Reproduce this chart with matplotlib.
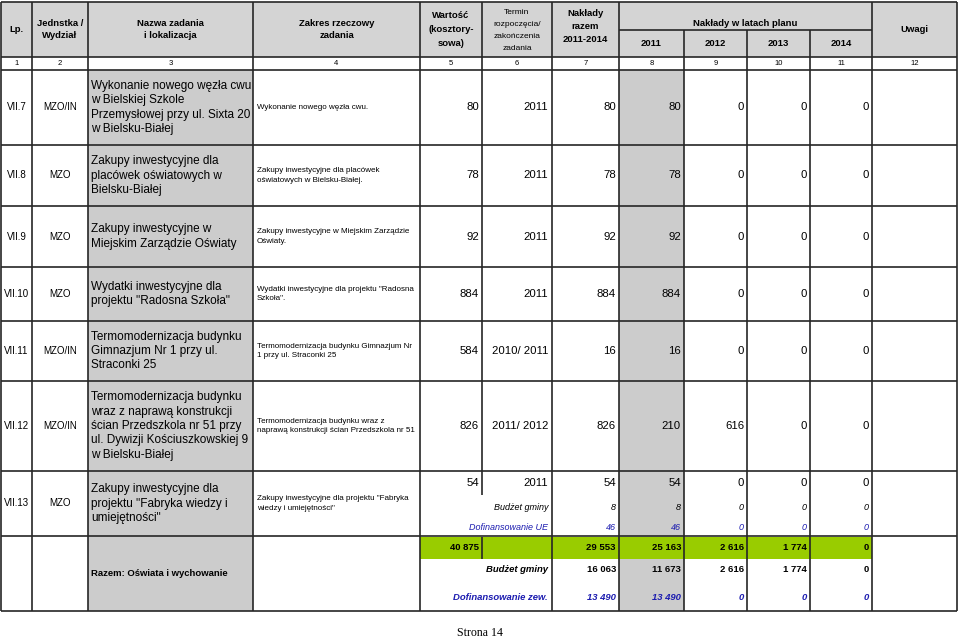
import matplotlib
matplotlib.use("Agg")
import matplotlib.pyplot as plt
from matplotlib.patches import Rectangle

plt.rcParams['font.family'] = ['Liberation Sans', 'DejaVu Sans']

# --- table content ---
LP = ["VII.7", "VII.8", "VII.9", "VII.10", "VII.11", "VII.12", "VII.13"]
UNITS = ["MZO/IN", "MZO", "MZO", "MZO", "MZO/IN", "MZO/IN", "MZO"]
NAMES = [
    ["Wykonanie nowego węzła cwu", "w Bielskiej Szkole", "Przemysłowej przy ul. Sixta 20", "w Bielsku-Białej"],
    ["Zakupy inwestycyjne dla", "placówek oświatowych w", "Bielsku-Białej"],
    ["Zakupy inwestycyjne w", "Miejskim Zarządzie Oświaty"],
    ["Wydatki inwestycyjne dla", "projektu \"Radosna Szkoła\""],
    ["Termomodernizacja budynku", "Gimnazjum Nr 1 przy ul.", "Straconki 25"],
    ["Termomodernizacja budynku", "wraz z naprawą konstrukcji", "ścian Przedszkola nr 51 przy",
     "ul. Dywizji Kościuszkowskiej 9", "w Bielsku-Białej"],
    ["Zakupy inwestycyjne dla", "projektu \"Fabryka wiedzy i", "umiejętności\""],
]
SCOPES = [
    ["Wykonanie nowego węzła cwu."],
    ["Zakupy inwestycyjne dla placówek", "oświatowych w Bielsku-Białej."],
    ["Zakupy inwestycyjne w Miejskim Zarządzie", "Oświaty."],
    ["Wydatki inwestycyjne dla projektu \"Radosna", "Szkoła\"."],
    ["Termomodernizacja budynku Gimnazjum Nr", "1 przy ul. Straconki 25"],
    ["Termomodernizacja budynku wraz z", "naprawą konstrukcji ścian Przedszkola nr 51"],
    ["Zakupy inwestycyjne dla projektu \"Fabryka", "wiedzy i umiejętności\""],
]
VALUES = [80, 78, 92, 884, 584, 826, 54]
TERMS = ["2011", "2011", "2011", "2011", "2010/ 2011", "2011/ 2012", "2011"]
TOTAL = [80, 78, 92, 884, 16, 826, 54]
Y2011 = [80, 78, 92, 884, 16, 210, 54]
Y2012 = [0, 0, 0, 0, 0, 616, 0]
Y2013 = [0, 0, 0, 0, 0, 0, 0]
Y2014 = [0, 0, 0, 0, 0, 0, 0]

# VII.13 split: razem, 2011, 2012, 2013, 2014
SUB_BUDZET = [8, 8, 0, 0, 0]
SUB_UE = [46, 46, 0, 0, 0]

# summary "Razem"
SUM_VALUE = 40875
SUM_ALL = [29553, 25163, 2616, 1774, 0]
SUM_BUDZET = [16063, 11673, 2616, 1774, 0]
SUM_ZEW = [13490, 13490, 0, 0, 0]

HEAD_NUMS = [str(i) for i in range(1, 13)]
YEARS = ["2011", "2012", "2013", "2014"]

# --- layout (pixels) ---
XE = [1, 32, 88, 253, 420, 482, 552, 619, 684, 747, 810, 872, 957]
ROWS = [70, 145, 206, 267, 321, 381, 471, 536, 611]
TOP, HEAD_BOT, NUM_BOT = 2, 57, 70
LINE = '#262626'
GRAY_H = '#d4d4d4'
GRAY = '#cccccc'
GREEN = '#99cc00'
BLUE = '#1c1cb0'


def fmt(v):
    return f"{v:,}".replace(",", " ")


def lines(ax, x, yc, txt, sp, ha='center', **kw):
    n = len(txt)
    for i, t in enumerate(txt):
        ax.text(x, yc + (i - (n - 1) / 2) * sp, t, ha=ha, va='center', **kw)


fig = plt.figure(figsize=(9.59, 6.38), dpi=100)
ax = fig.add_axes([0, 0, 1, 1])
ax.set_xlim(0, 959)
ax.set_ylim(638, 0)
ax.axis('off')

bot = ROWS[-1]
# fills
ax.add_patch(Rectangle((XE[0], TOP), XE[-1] - XE[0], HEAD_BOT - TOP, color=GRAY_H, lw=0))
ax.add_patch(Rectangle((XE[2], NUM_BOT), XE[3] - XE[2], bot - NUM_BOT, color=GRAY, lw=0))
ax.add_patch(Rectangle((XE[7], NUM_BOT), XE[8] - XE[7], bot - NUM_BOT, color=GRAY, lw=0))
ax.add_patch(Rectangle((XE[4], 537), XE[11] - XE[4], 22, color=GREEN, lw=0))

lk = dict(color=LINE, lw=1.2)
# horizontal lines
ax.hlines([TOP, HEAD_BOT, NUM_BOT] + ROWS[1:], XE[0], XE[-1], **lk)
ax.hlines(30, XE[7], XE[11], **lk)
# vertical lines
for i, x in enumerate(XE):
    if i in (8, 9, 10):
        ax.vlines(x, 30, HEAD_BOT, **lk)
        ax.vlines(x, HEAD_BOT, bot, **lk)
    elif i == 5:
        ax.vlines(x, TOP, ROWS[6], **lk)
        ax.vlines(x, ROWS[6], 495, **lk)
        ax.vlines(x, 537, 559, **lk)
    else:
        ax.vlines(x, TOP, bot, **lk)

# header
hb = dict(fontsize=6.8, fontweight='bold')
ax.text(16.5, 29, "Lp.", ha='center', va='center', **hb)
lines(ax, 60, 29.5, ["Jednstka /", "Wydział"], 12, **hb)
lines(ax, 170.5, 29.5, ["Nazwa zadania", "i lokalizacja"], 12, **hb)
lines(ax, 336.5, 29.5, ["Zakres rzeczowy", "zadania"], 12, **hb)
lines(ax, 451, 29, ["Wartość", "(kosztory-", "sowa)"], 14, **hb)
lines(ax, 517, 30.5, ["Termin", "rozpoczęcia/", "zakończenia", "zadania"], 12.3, fontsize=6.0)
lines(ax, 585.5, 26.5, ["Nakłady", "razem", "2011-2014"], 13.5, **hb)
ax.text(745, 23, "Nakłady w latach planu", ha='center', va='center', **hb)
for i, yr in enumerate(YEARS):
    ax.text((XE[7 + i] + XE[8 + i]) / 2, 43.5, yr, ha='center', va='center', **hb)
ax.text(914.5, 29, "Uwagi", ha='center', va='center', **hb)
for i, s in enumerate(HEAD_NUMS):
    ax.text((XE[i] + XE[i + 1]) / 2, 63.5, s, ha='center', va='center', fontsize=5.5)

# data rows
RX = [479, 548, 616, 681, 744, 807, 869]
for r in range(len(LP)):
    y0, y1 = ROWS[r], ROWS[r + 1]
    yc = (y0 + y1) / 2
    ax.text(16.5, yc, LP[r], ha='center', va='center', fontsize=7)
    ax.text(60, yc, UNITS[r], ha='center', va='center', fontsize=7)
    lines(ax, 91, yc, NAMES[r], 14.4, ha='left', fontsize=8.5)
    lines(ax, 257, yc, SCOPES[r], 9.5, ha='left', fontsize=5.75)
    yv = 483 if r == len(LP) - 1 else yc
    row = [fmt(VALUES[r]), TERMS[r], fmt(TOTAL[r]), fmt(Y2011[r]),
           fmt(Y2012[r]), fmt(Y2013[r]), fmt(Y2014[r])]
    for x, s in zip(RX, row):
        ax.text(x, yv, s, ha='right', va='center', fontsize=8.2)

# VII.13 split
ax.text(548, 507, "Budżet gminy", ha='right', va='center', fontsize=6.5, style='italic')
ax.text(548, 527, "Dofinansowanie UE", ha='right', va='center', fontsize=6.5,
        style='italic', color=BLUE)
for x, a, b in zip(RX[2:], SUB_BUDZET, SUB_UE):
    ax.text(x, 507, fmt(a), ha='right', va='center', fontsize=6.5, style='italic')
    ax.text(x, 527, fmt(b), ha='right', va='center', fontsize=6.5, style='italic', color=BLUE)

# summary
sb = dict(fontsize=6.8, fontweight='bold')
ax.text(91, 573.5, "Razem: Oświata i wychowanie", ha='left', va='center', **sb)
ax.text(RX[0], 548, fmt(SUM_VALUE), ha='right', va='center', **sb)
ax.text(548, 570, "Budżet gminy", ha='right', va='center', style='italic', **sb)
ax.text(548, 597, "Dofinansowanie zew.", ha='right', va='center', style='italic',
        color=BLUE, **sb)
for x, a, b, c in zip(RX[2:], SUM_ALL, SUM_BUDZET, SUM_ZEW):
    ax.text(x, 548, fmt(a), ha='right', va='center', **sb)
    ax.text(x, 570, fmt(b), ha='right', va='center', **sb)
    ax.text(x, 597, fmt(c), ha='right', va='center', style='italic', color=BLUE, **sb)

ax.text(480, 633, "Strona 14", ha='center', va='center', fontsize=8.6,
        family='Liberation Serif')

fig.savefig("out.png", dpi=100)
